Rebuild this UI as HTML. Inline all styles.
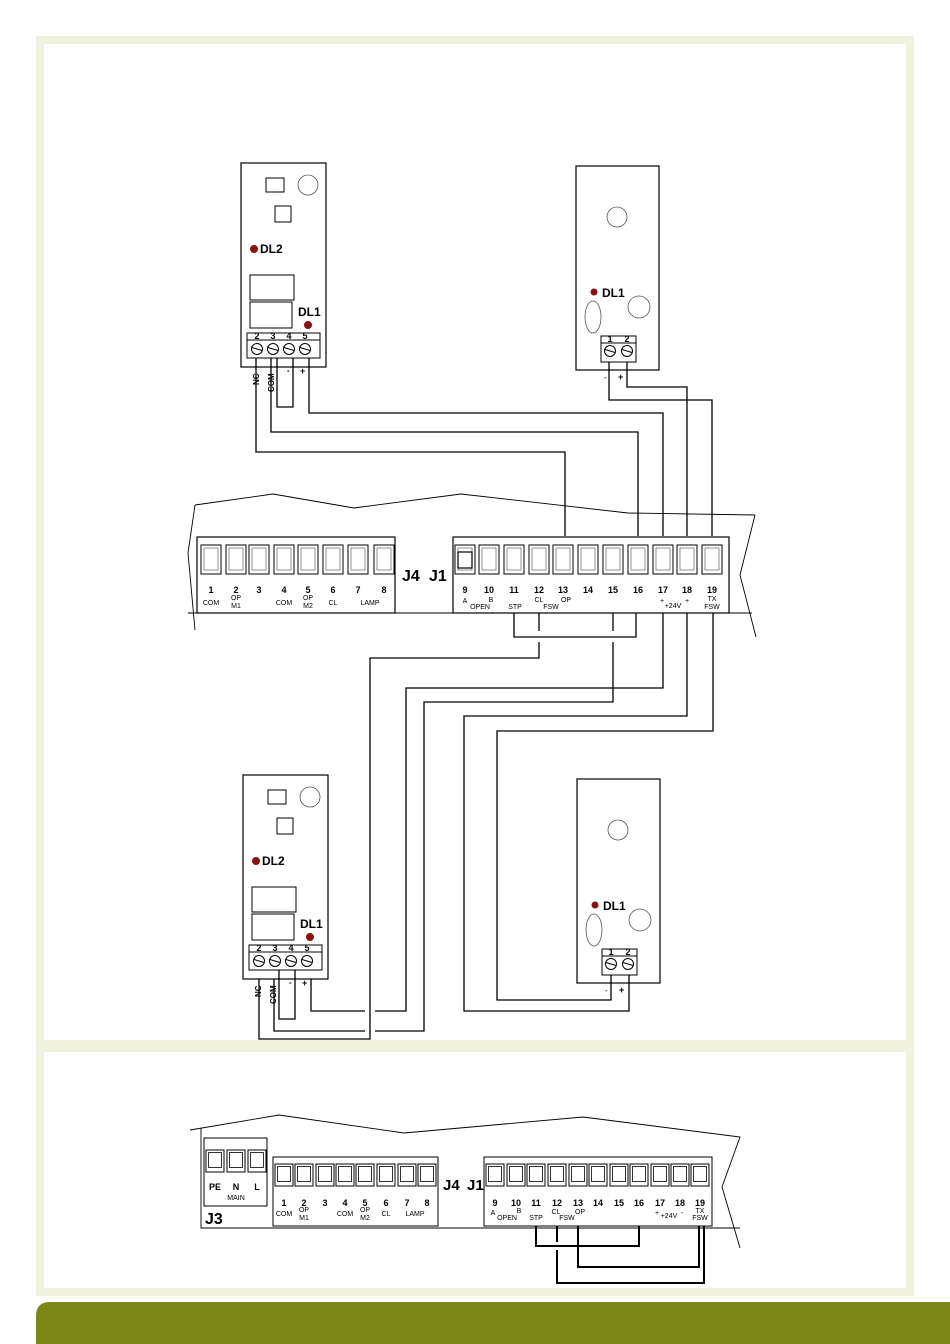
<!DOCTYPE html>
<html><head><meta charset="utf-8"><style>
html,body{margin:0;padding:0;background:#fff;}
svg{display:block;}
text{font-family:"Liberation Sans",sans-serif;fill:#000;}
.n{font-size:9px;font-weight:bold;text-anchor:middle;}
.s{font-size:7px;text-anchor:middle;}
.b{font-weight:bold;}
</style></head><body>
<svg width="950" height="1344" viewBox="0 0 950 1344" xmlns="http://www.w3.org/2000/svg">
<defs>
<g id="tile"><rect x="-10" y="0" width="20" height="29" fill="#fff" stroke="#000" stroke-width="1"/><rect x="-7" y="3" width="14" height="22" fill="#fff" stroke="#777" stroke-width="0.8"/></g>
<g id="tileS"><rect x="-9" y="0" width="18" height="22" fill="#fff" stroke="#000" stroke-width="1"/><rect x="-6.5" y="2.5" width="13" height="15" fill="#fff" stroke="#000" stroke-width="0.8"/></g>
<g id="screw"><circle r="5.5" fill="#fff" stroke="#000" stroke-width="1"/><line x1="-5" y1="-1.5" x2="5" y2="1.5" stroke="#000" stroke-width="1"/></g>
<g id="relay">
<rect x="241" y="163" width="85" height="204" fill="#fff" stroke="#000" stroke-width="1.2"/>
<rect x="266" y="178" width="18" height="14" fill="none" stroke="#000"/>
<rect x="275" y="206" width="16" height="16" fill="none" stroke="#000"/>
<circle cx="308" cy="185" r="10" fill="none" stroke="#555" stroke-width="0.8"/>
<circle cx="254" cy="249" r="4" fill="#8b1010"/>
<text x="260" y="253" class="b" font-size="12">DL2</text>
<rect x="250" y="275" width="44" height="25" fill="none" stroke="#000"/>
<rect x="250" y="302" width="42" height="26" fill="none" stroke="#000"/>
<text x="298" y="316" class="b" font-size="12">DL1</text>
<circle cx="308" cy="325" r="4" fill="#8b1010"/>
<rect x="247" y="333" width="73" height="25" fill="#fff" stroke="#000"/>
<line x1="247" y1="340" x2="320" y2="340" stroke="#000"/>
<text x="257" y="339" class="n" font-size="8">2</text><text x="273" y="339" class="n" font-size="8">3</text><text x="289" y="339" class="n" font-size="8">4</text><text x="305" y="339" class="n" font-size="8">5</text>
<use href="#screw" x="257" y="349"/><use href="#screw" x="273" y="349"/><use href="#screw" x="289" y="349"/><use href="#screw" x="305" y="349"/>
<text transform="translate(259,385) rotate(-90)" class="b" font-size="8">NC</text>
<text transform="translate(274,392) rotate(-90)" class="b" font-size="8">COM</text>
<text x="287" y="373" class="b" font-size="8">-</text><text x="300" y="374" class="b" font-size="9">+</text>
<path d="M277 358 V407 H293 V358" fill="none" stroke="#000" stroke-width="1.3"/>
</g>
<g id="photo">
<rect x="576" y="166" width="83" height="204" fill="#fff" stroke="#000" stroke-width="1.2"/>
<circle cx="617" cy="217" r="10" fill="none" stroke="#555" stroke-width="0.8"/>
<circle cx="639" cy="307" r="11" fill="none" stroke="#555" stroke-width="0.8"/>
<ellipse cx="593" cy="317" rx="8" ry="16" fill="none" stroke="#555" stroke-width="0.8"/>
<circle cx="594" cy="292" r="3.5" fill="#8b1010"/>
<text x="602" y="297" class="b" font-size="12">DL1</text>
<rect x="601" y="336" width="35" height="26" fill="#fff" stroke="#000"/>
<line x1="601" y1="343" x2="636" y2="343" stroke="#000"/>
<text x="610" y="342" class="n" font-size="8">1</text><text x="627" y="342" class="n" font-size="8">2</text>
<use href="#screw" x="610" y="351"/><use href="#screw" x="627" y="351"/>
<text x="604" y="380" font-size="8">-</text><text x="618" y="380" class="b" font-size="9">+</text>
</g>
</defs>

<!-- frame -->
<rect x="36" y="36" width="878" height="1260" fill="#f1f1df"/>
<rect x="44" y="44" width="862" height="996" fill="#fff"/>
<rect x="44" y="1052" width="862" height="236" fill="#fff"/>
<path d="M36 1344 V1316 Q36 1302 50 1302 H950 V1344 Z" fill="#7a8715"/>

<!-- top devices -->
<use href="#relay"/>
<use href="#photo"/>
<use href="#relay" transform="translate(2,612)"/>
<use href="#photo" transform="translate(1,613)"/>

<g fill="none" stroke="#000" stroke-width="1.3">
<!-- top relay wires -->
<path d="M256 358 V452 H565 V536"/>
<path d="M271 358 V432 H638 V536"/>
<path d="M309 358 V413 H663 V536"/>
<!-- top photocell -->
<path d="M609 362 V400 H712 V536"/>
<path d="M627 362 V387 H687 V536"/>
<!-- PCB outline -->
<path d="M195 505 L273 494 L354 508 L461 494 L628 513 L755 515" stroke-width="0.9"/>
<path d="M195 505 L188 553 L195 630" stroke-width="0.9"/>
<path d="M755 515 L740 575 L756 637" stroke-width="0.9"/>
<path d="M188 613 H752" stroke-width="0.9"/>
<!-- loop under J1 -->
<path d="M514 612 V637 H636 V612"/>
<path d="M539 612 V631"/>
<path d="M613 612 V631"/>
<!-- lower wires -->
<path d="M539 642 V658 H370 V1039 H259 V979"/>
<path d="M613 642 V702 H424 V1031 H375 M365 1031 H274 V979"/>
<path d="M663 612 V688 H406 V1011 H375 M365 1011 H311 V979"/>
<path d="M687 612 V716 H464 V1011 H629 V975"/>
<path d="M713 612 V731 H497 V1000 H611 V975"/>
</g>

<!-- J4 top -->
<rect x="197" y="537" width="198" height="76" fill="#fff" stroke="#000" stroke-width="1.2"/>
<g>
<use href="#tile" x="211" y="545"/><use href="#tile" x="236" y="545"/><use href="#tile" x="259" y="545"/><use href="#tile" x="284" y="545"/><use href="#tile" x="308" y="545"/><use href="#tile" x="333" y="545"/><use href="#tile" x="358" y="545"/><use href="#tile" x="384" y="545"/>
</g>
<text x="211" y="593" class="n">1</text><text x="236" y="593" class="n">2</text><text x="259" y="593" class="n">3</text><text x="284" y="593" class="n">4</text><text x="308" y="593" class="n">5</text><text x="333" y="593" class="n">6</text><text x="358" y="593" class="n">7</text><text x="384" y="593" class="n">8</text>
<text x="211" y="605" class="s">COM</text><text x="236" y="600" class="s">OP</text><text x="236" y="608" class="s">M1</text><text x="284" y="605" class="s">COM</text><text x="308" y="600" class="s">OP</text><text x="308" y="608" class="s">M2</text><text x="333" y="605" class="s">CL</text><text x="370" y="605" class="s">LAMP</text>
<text x="402" y="581" class="b" font-size="16">J4</text><text x="429" y="581" class="b" font-size="16">J1</text>

<!-- J1 top -->
<rect x="453" y="537" width="276" height="76" fill="#fff" stroke="#000" stroke-width="1.2"/>
<use href="#tile" x="465" y="545"/><use href="#tile" x="489" y="545"/><use href="#tile" x="514" y="545"/><use href="#tile" x="539" y="545"/><use href="#tile" x="563" y="545"/><use href="#tile" x="588" y="545"/><use href="#tile" x="613" y="545"/><use href="#tile" x="638" y="545"/><use href="#tile" x="663" y="545"/><use href="#tile" x="687" y="545"/><use href="#tile" x="712" y="545"/>
<rect x="458" y="552" width="14" height="16" fill="none" stroke="#000" stroke-width="1.2"/>
<text x="465" y="593" class="n">9</text><text x="489" y="593" class="n">10</text><text x="514" y="593" class="n">11</text><text x="539" y="593" class="n">12</text><text x="563" y="593" class="n">13</text><text x="588" y="593" class="n">14</text><text x="613" y="593" class="n">15</text><text x="638" y="593" class="n">16</text><text x="663" y="593" class="n">17</text><text x="687" y="593" class="n">18</text><text x="712" y="593" class="n">19</text>
<text x="465" y="603" class="s">A</text><text x="480" y="609" class="s">OPEN</text><text x="491" y="602" class="s">B</text><text x="515" y="609" class="s">STP</text><text x="539" y="602" class="s">CL</text><text x="551" y="609" class="s">FSW</text><text x="566" y="602" class="s">OP</text><text x="662" y="603" class="s">+</text><text x="673" y="608" class="s">+24V</text><text x="687" y="603" class="s">+</text><text x="712" y="601" class="s">TX</text><text x="712" y="609" class="s">FSW</text>

<!-- bottom panel -->
<g fill="none" stroke="#000" stroke-width="0.9">
<path d="M190 1130 L279 1115 L404 1133 L583 1117 L740 1137 L722 1187 L740 1248"/>
<path d="M201 1128 V1228 H740"/>
</g>
<rect x="204" y="1138" width="63" height="68" fill="#fff" stroke="#000"/>
<use href="#tileS" x="215" y="1150"/><use href="#tileS" x="236" y="1150"/><use href="#tileS" x="257" y="1150"/>
<text x="215" y="1190" class="n" font-size="8">PE</text><text x="236" y="1190" class="n" font-size="8">N</text><text x="257" y="1190" class="n" font-size="8">L</text>
<text x="236" y="1200" class="s" font-size="6">MAIN</text>
<text x="205" y="1224" class="b" font-size="16">J3</text>
<rect x="273" y="1157" width="165" height="69" fill="#fff" stroke="#000"/>
<use href="#tileS" x="284" y="1164"/><use href="#tileS" x="304" y="1164"/><use href="#tileS" x="325" y="1164"/><use href="#tileS" x="345" y="1164"/><use href="#tileS" x="365" y="1164"/><use href="#tileS" x="386" y="1164"/><use href="#tileS" x="407" y="1164"/><use href="#tileS" x="427" y="1164"/>
<text x="284" y="1206" class="n" font-size="8">1</text><text x="304" y="1206" class="n" font-size="8">2</text><text x="325" y="1206" class="n" font-size="8">3</text><text x="345" y="1206" class="n" font-size="8">4</text><text x="365" y="1206" class="n" font-size="8">5</text><text x="386" y="1206" class="n" font-size="8">6</text><text x="407" y="1206" class="n" font-size="8">7</text><text x="427" y="1206" class="n" font-size="8">8</text>
<text x="284" y="1216" class="s" font-size="6">COM</text><text x="304" y="1212" class="s" font-size="6">OP</text><text x="304" y="1220" class="s" font-size="6">M1</text><text x="345" y="1216" class="s" font-size="6">COM</text><text x="365" y="1212" class="s" font-size="6">OP</text><text x="365" y="1220" class="s" font-size="6">M2</text><text x="386" y="1216" class="s" font-size="6">CL</text><text x="415" y="1216" class="s" font-size="6">LAMP</text>
<text x="443" y="1190" class="b" font-size="15">J4</text><text x="467" y="1190" class="b" font-size="15">J1</text>
<rect x="484" y="1157" width="228" height="69" fill="#fff" stroke="#000"/>
<use href="#tileS" x="495" y="1164"/><use href="#tileS" x="516" y="1164"/><use href="#tileS" x="536" y="1164"/><use href="#tileS" x="557" y="1164"/><use href="#tileS" x="578" y="1164"/><use href="#tileS" x="598" y="1164"/><use href="#tileS" x="619" y="1164"/><use href="#tileS" x="639" y="1164"/><use href="#tileS" x="660" y="1164"/><use href="#tileS" x="680" y="1164"/><use href="#tileS" x="700" y="1164"/>
<text x="495" y="1206" class="n" font-size="8">9</text><text x="516" y="1206" class="n" font-size="8">10</text><text x="536" y="1206" class="n" font-size="8">11</text><text x="557" y="1206" class="n" font-size="8">12</text><text x="578" y="1206" class="n" font-size="8">13</text><text x="598" y="1206" class="n" font-size="8">14</text><text x="619" y="1206" class="n" font-size="8">15</text><text x="639" y="1206" class="n" font-size="8">16</text><text x="660" y="1206" class="n" font-size="8">17</text><text x="680" y="1206" class="n" font-size="8">18</text><text x="700" y="1206" class="n" font-size="8">19</text>
<text x="493" y="1215" class="s" font-size="6">A</text><text x="507" y="1220" class="s" font-size="6">OPEN</text><text x="519" y="1213" class="s" font-size="6">B</text><text x="536" y="1220" class="s" font-size="6">STP</text><text x="556" y="1214" class="s" font-size="6">CL</text><text x="567" y="1220" class="s" font-size="6">FSW</text><text x="580" y="1214" class="s" font-size="6">OP</text><text x="657" y="1215" class="s" font-size="6">+</text><text x="669" y="1218" class="s" font-size="6">+24V</text><text x="682" y="1215" class="s" font-size="6">-</text><text x="700" y="1213" class="s" font-size="6">TX</text><text x="700" y="1220" class="s" font-size="6">FSW</text>
<g fill="none" stroke="#000" stroke-width="2">
<path d="M536 1226 V1246 H639 V1226"/>
<path d="M578 1226 V1267 H699 V1226"/>
<path d="M557 1226 V1242 M557 1250 V1283 H704 V1226"/>
</g>
</svg>
</body></html>
